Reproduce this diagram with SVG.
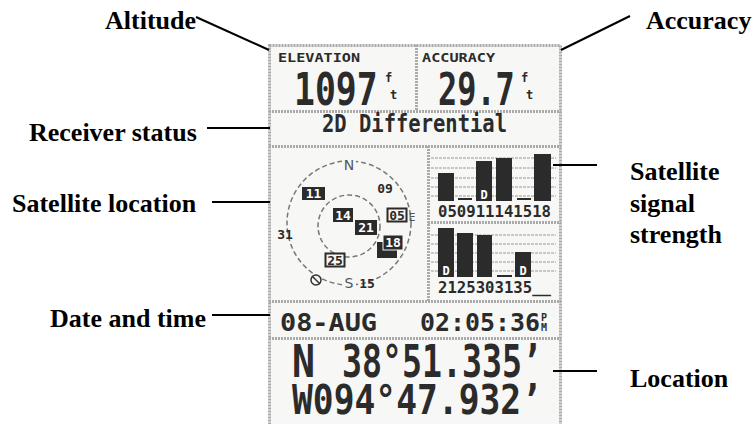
<svg xmlns="http://www.w3.org/2000/svg" width="754" height="424" viewBox="0 0 754 424">
<style>
.lbl{font-family:"Liberation Serif","Times New Roman",serif;font-weight:bold;font-size:26px;fill:#000}
.con{stroke:#000;stroke-width:2;fill:none}
.frame{fill:none;stroke:#aaa;stroke-width:3;stroke-dasharray:2 1}
.lcd{font-family:"DejaVu Sans Mono","Liberation Mono",monospace;font-weight:bold;fill:#2b2b2b}
.thin{font-family:"DejaVu Sans","Liberation Sans",sans-serif;fill:#555}
.grid{stroke:#999;stroke-width:1.2;stroke-dasharray:3 1}
.bar{fill:#2b2b2b}
.wd{font-family:"DejaVu Sans Mono",monospace;font-weight:bold;font-size:12px;fill:#fff}
.sat{font-family:"DejaVu Sans Mono",monospace;font-weight:bold;font-size:13px}
</style>
<rect width="754" height="424" fill="#fff"/>
<g id="screen">
<rect x="269" y="45" width="292" height="380" fill="#f7f7f5"/>
<rect class="frame" x="269.5" y="45.5" width="291" height="380"/>
<line class="frame" x1="269" y1="111.5" x2="561" y2="111.5"/>
<line class="frame" x1="269" y1="146.5" x2="561" y2="146.5"/>
<line class="frame" x1="269" y1="301.5" x2="561" y2="301.5"/>
<line class="frame" x1="269" y1="338.5" x2="561" y2="338.5"/>
<line class="frame" x1="416.5" y1="45" x2="416.5" y2="111"/>
<line class="frame" x1="428.5" y1="146" x2="428.5" y2="301"/>
<line class="frame" x1="428" y1="222.5" x2="561" y2="222.5"/>
</g>
<g id="elevation">
<text class="lcd" x="278" y="62" font-size="12" textLength="82" lengthAdjust="spacingAndGlyphs">ELEVATION</text>
<text class="lcd" transform="translate(294,105) scale(0.79,1)" x="0" y="0" font-size="44">1097</text>
<text class="lcd" font-size="12"><tspan x="385" y="82">f</tspan><tspan x="390" y="99">t</tspan></text>
</g>
<g id="accuracy">
<text class="lcd" x="422" y="62" font-size="12" textLength="73" lengthAdjust="spacingAndGlyphs">ACCURACY</text>
<text class="lcd" transform="translate(438,105) scale(0.725,1)" x="0" y="0" font-size="44">29.7</text>
<text class="lcd" font-size="12"><tspan x="521" y="82">f</tspan><tspan x="526" y="99">t</tspan></text>
</g>
<g id="status">
<text class="lcd" x="322" y="132" font-size="24" textLength="185" lengthAdjust="spacingAndGlyphs">2D Differential</text>
</g>
<g id="skyview">
<circle cx="349" cy="223" r="62" fill="none" stroke="#777" stroke-width="1.5" stroke-dasharray="5 3"/>
<circle cx="349" cy="226" r="31" fill="none" stroke="#777" stroke-width="1.5" stroke-dasharray="5 3"/>
<rect x="342" y="156" width="14" height="15" fill="#f7f7f5"/>
<text class="thin" x="349" y="170" font-size="14" text-anchor="middle">N</text>
<rect x="342" y="276" width="14" height="14" fill="#f7f7f5"/>
<text class="thin" x="349" y="288" font-size="14" text-anchor="middle">S</text>
<text class="thin" x="412" y="221" font-size="11" text-anchor="middle" fill="#999">E</text>
<circle cx="316" cy="280" r="5" fill="#f7f7f5" stroke="#333" stroke-width="1.5"/>
<line x1="312" y1="276" x2="320" y2="284" stroke="#333" stroke-width="1.5"/>
<rect x="302" y="187" width="23" height="13" fill="#2b2b2b"/>
<text class="sat" x="313.5" y="198" fill="#fff" text-anchor="middle">11</text>
<rect x="333" y="208" width="20" height="14" fill="#2b2b2b"/>
<text class="sat" x="343" y="220" fill="#fff" text-anchor="middle">14</text>
<rect x="355" y="220" width="22" height="15" fill="#2b2b2b"/>
<text class="sat" x="366" y="232" fill="#fff" text-anchor="middle">21</text>
<rect x="377" y="242" width="20" height="16" fill="#2b2b2b"/>
<rect x="383" y="235" width="20" height="15" fill="#2b2b2b" stroke="#f7f7f5" stroke-width="1"/>
<text class="sat" x="393" y="247" fill="#fff" text-anchor="middle">18</text>
<rect x="387.5" y="208.5" width="19" height="13" fill="#f7f7f5" stroke="#2b2b2b" stroke-width="2"/>
<text class="sat" x="397" y="219.5" fill="#2b2b2b" text-anchor="middle">05</text>
<rect x="325.5" y="253.5" width="19" height="13" fill="#f7f7f5" stroke="#2b2b2b" stroke-width="2"/>
<text class="sat" x="335" y="264.5" fill="#2b2b2b" text-anchor="middle">25</text>
<text class="sat" x="385" y="193" fill="#2b2b2b" text-anchor="middle">09</text>
<text class="sat" x="285" y="239" fill="#2b2b2b" text-anchor="middle">31</text>
<text class="sat" x="367" y="288" fill="#2b2b2b" text-anchor="middle">15</text>
</g>
<g id="signal">
<line class="grid" x1="431" y1="158" x2="556" y2="158"/>
<line class="grid" x1="431" y1="168" x2="556" y2="168"/>
<line class="grid" x1="431" y1="178" x2="556" y2="178"/>
<line class="grid" x1="431" y1="187" x2="556" y2="187"/>
<line class="grid" x1="431" y1="196" x2="556" y2="196"/>
<line class="grid" x1="431" y1="235" x2="556" y2="235"/>
<line class="grid" x1="431" y1="244" x2="556" y2="244"/>
<line class="grid" x1="431" y1="253" x2="556" y2="253"/>
<line class="grid" x1="431" y1="262" x2="556" y2="262"/>
<line class="grid" x1="431" y1="271" x2="556" y2="271"/>
<rect class="bar" x="438" y="173" width="16" height="28"/>
<rect class="bar" x="458" y="198" width="14" height="2"/>
<rect class="bar" x="476" y="161" width="16" height="40"/>
<text class="wd" x="484" y="199" text-anchor="middle">D</text>
<rect class="bar" x="496" y="158" width="16" height="43"/>
<rect class="bar" x="517" y="198" width="14" height="2"/>
<rect class="bar" x="534" y="154" width="17" height="47"/>
<text class="lcd" x="438" y="217" font-size="15" textLength="113" lengthAdjust="spacingAndGlyphs">050911141518</text>
<rect class="bar" x="438" y="228" width="16" height="49"/>
<text class="wd" x="446" y="275" text-anchor="middle">D</text>
<rect class="bar" x="457" y="233" width="16" height="44"/>
<rect class="bar" x="477" y="235" width="15" height="42"/>
<rect class="bar" x="497" y="275" width="15" height="2"/>
<rect class="bar" x="515" y="252" width="16" height="25"/>
<text class="wd" x="523" y="275" text-anchor="middle">D</text>
<text class="lcd" x="438" y="293" font-size="15" textLength="113" lengthAdjust="spacingAndGlyphs">2125303135__</text>
</g>
<g id="datetime">
<text class="lcd" x="280" y="331" font-size="25" textLength="97" lengthAdjust="spacingAndGlyphs">08-AUG</text>
<text class="lcd" x="420" y="331" font-size="25" textLength="120" lengthAdjust="spacingAndGlyphs">02:05:36</text>
<text class="lcd" font-size="10"><tspan x="541" y="321">P</tspan><tspan x="541" y="331">M</tspan></text>
</g>
<g id="location">
<text class="lcd" x="292" y="377" font-size="44" textLength="23" lengthAdjust="spacingAndGlyphs">N</text>
<text class="lcd" x="342" y="377" font-size="44" textLength="200" lengthAdjust="spacingAndGlyphs">38°51.335’</text>
<text class="lcd" x="292" y="414" font-size="41" textLength="250" lengthAdjust="spacingAndGlyphs">W094°47.932’</text>
</g>
<g id="labels">
<text id="lbl-altitude" class="lbl" x="105" y="29">Altitude</text>
<text id="lbl-accuracy" class="lbl" x="646" y="29">Accuracy</text>
<text id="lbl-receiver" class="lbl" x="29" y="141">Receiver status</text>
<text id="lbl-satloc" class="lbl" x="12" y="212">Satellite location</text>
<text id="lbl-date" class="lbl" x="50" y="327">Date and time</text>
<text id="lbl-signal" class="lbl" x="630" y="180">Satellite<tspan x="630" y="212">signal</tspan><tspan x="630" y="243">strength</tspan></text>
<text id="lbl-location" class="lbl" x="630" y="387">Location</text>
</g>
<g id="connectors">
<line class="con" x1="196" y1="17" x2="269" y2="50"/>
<line class="con" x1="630" y1="16" x2="561" y2="50"/>
<line class="con" x1="207" y1="128" x2="270" y2="128"/>
<line class="con" x1="212" y1="202" x2="270" y2="202"/>
<line class="con" x1="212" y1="315" x2="270" y2="315"/>
<line class="con" x1="553" y1="165" x2="597" y2="165"/>
<line class="con" x1="553" y1="371" x2="597" y2="371"/>
</g>
</svg>
